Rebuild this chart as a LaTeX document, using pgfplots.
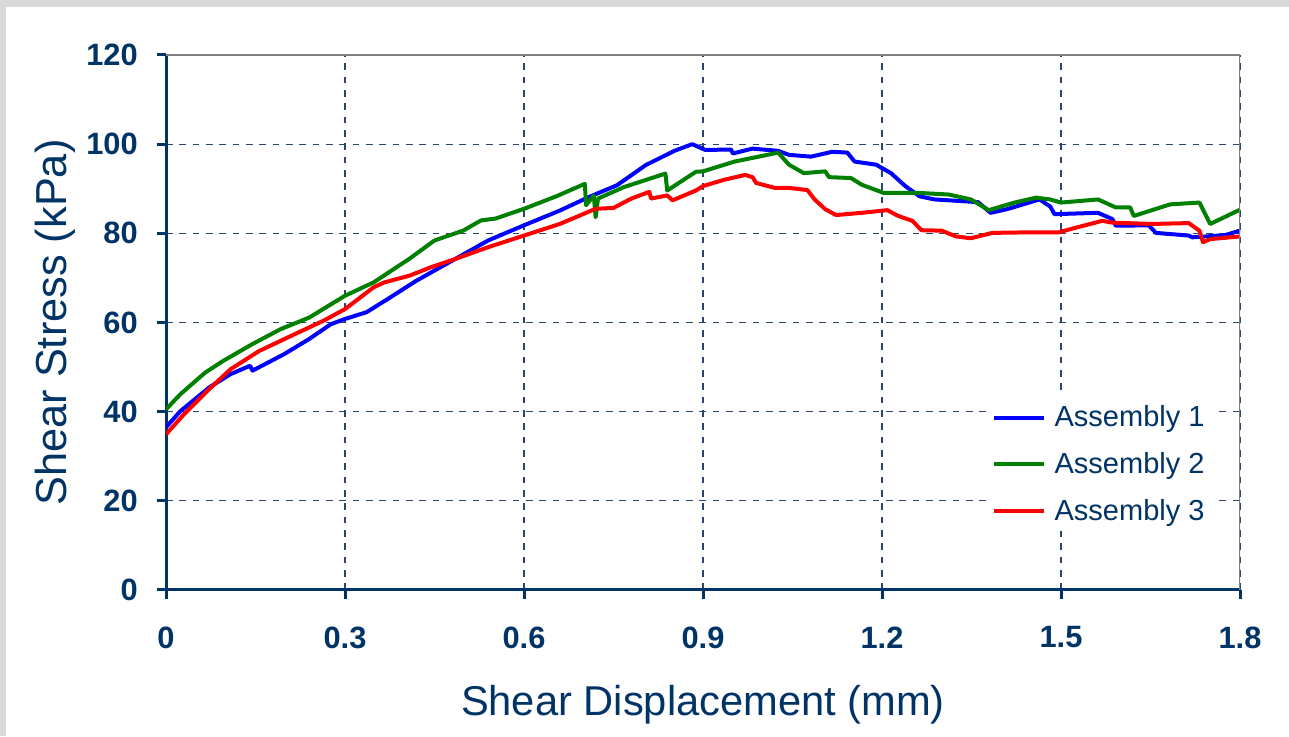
\documentclass[border=0pt]{standalone}
\usepackage{fontspec}
\setmainfont{Liberation Sans}
\usepackage{pgfplots}
\pgfplotsset{compat=1.18}
\definecolor{navy}{RGB}{0,51,102}
\definecolor{gridc}{RGB}{40,70,110}
\definecolor{bandgray}{RGB}{217,217,217}
\definecolor{c1}{RGB}{0,0,255}
\definecolor{c2}{RGB}{0,128,0}
\definecolor{c3}{RGB}{255,0,0}
\begin{document}
\begin{tikzpicture}
\fill[bandgray] (0pt,0pt) rectangle (773.4pt,441.6pt);
\fill[white] (3.6pt,0pt) rectangle (773.4pt,437.4pt);
\useasboundingbox (0pt,0pt) rectangle (773.4pt,441.6pt);
\begin{axis}[
  at={(99.6pt,87.6pt)}, anchor=south west,
  scale only axis, width=644.4pt, height=321pt,
  xmin=0, xmax=1.8, ymin=0, ymax=120,
  xtick={0,0.3,0.6,0.9,1.2,1.5,1.8},
  xticklabels={0,0.3,0.6,0.9,1.2,1.5,1.8},
  ytick={0,20,40,60,80,100,120},
  yticklabels={0,20,40,60,80,100,120},
  axis x line*=bottom, axis y line*=left,
  axis line style={navy, line width=1.8pt, -},
  tick align=outside, major tick length=5.4pt,
  tick style={navy, line width=1.8pt},
  grid=major,
  major grid style={gridc, line width=0.7pt, dash pattern=on 4pt off 4pt},
  ticklabel style={font=\fontsize{18.5}{21}\selectfont\bfseries, text=navy},
  xticklabel style={yshift=-13pt},
  yticklabel style={xshift=-8pt},
  xlabel={Shear Displacement (mm)},
  ylabel={Shear Stress (kPa)},
  every axis x label/.style={at={(axis description cs:0.5,-0.214)}, anchor=center, font=\fontsize{25}{30}\selectfont, text=navy},
  every axis y label/.style={at={(axis description cs:-0.1034,0.5)}, rotate=90, anchor=center, font=\fontsize{26}{30}\selectfont, text=navy},
  legend style={at={(axis description cs:0.7644,0.3605)}, anchor=north west, draw=none, fill=white,
     font=\fontsize{17.4}{20}\selectfont, text=navy, row sep=10pt, inner sep=3pt},
  legend cell align=left,
  legend image code/.code={\draw[#1] (0pt,0pt) -- (30pt,0pt); \path (33pt,0pt);},
  every axis plot/.append style={line width=2.4pt, line join=round, sharp plot},
]
\addplot[c1] coordinates {(0,36.5)(0.024,40.1)(0.072,45.4)(0.108,48.4)(0.141,50.3)(0.145,49.2)(0.198,52.9)(0.24,56.3)(0.276,59.6)(0.30,60.8)(0.336,62.3)(0.372,65.3)(0.42,69.4)(0.48,73.9)(0.54,78.4)(0.60,81.8)(0.66,85.1)(0.708,88.1)(0.756,90.8)(0.804,95.3)(0.852,98.5)(0.882,100)(0.904,98.7)(0.947,98.8)(0.95,97.9)(0.983,99.0)(1.026,98.5)(1.044,97.6)(1.081,97.2)(1.117,98.3)(1.142,98.1)(1.154,96.1)(1.19,95.4)(1.215,93.5)(1.239,90.6)(1.263,88.3)(1.288,87.6)(1.361,87.0)(1.382,84.6)(1.409,85.4)(1.464,87.6)(1.482,86.0)(1.489,84.3)(1.562,84.6)(1.586,83.2)(1.592,81.7)(1.647,81.8)(1.659,80.1)(1.714,79.5)(1.72,79.1)(1.775,79.6)(1.8,80.6)};
\addlegendentry{Assembly 1}
\addplot[c2] coordinates {(0,40.5)(0.024,43.9)(0.066,48.8)(0.096,51.4)(0.144,55.1)(0.192,58.5)(0.24,61.1)(0.30,66.0)(0.348,69.0)(0.408,74.3)(0.45,78.4)(0.498,80.6)(0.528,82.9)(0.552,83.3)(0.60,85.5)(0.654,88.3)(0.702,91.1)(0.704,86.3)(0.717,88.5)(0.72,83.6)(0.724,87.8)(0.768,90.4)(0.837,93.4)(0.84,89.6)(0.888,93.8)(0.9,93.9)(0.953,96.1)(1.026,98.1)(1.044,95.4)(1.069,93.5)(1.105,93.9)(1.111,92.6)(1.148,92.4)(1.166,90.9)(1.202,89.1)(1.257,89.1)(1.312,88.7)(1.349,87.6)(1.379,85.2)(1.422,86.9)(1.458,88.0)(1.482,87.6)(1.5,86.9)(1.562,87.6)(1.592,85.8)(1.616,85.8)(1.622,83.9)(1.683,86.5)(1.732,86.9)(1.75,82.1)(1.8,85.3)};
\addlegendentry{Assembly 2}
\addplot[c3] coordinates {(0,34.9)(0.03,39.4)(0.072,45.0)(0.108,49.5)(0.156,53.6)(0.216,57.4)(0.264,60.4)(0.30,63.0)(0.348,67.9)(0.366,69.0)(0.408,70.5)(0.444,72.4)(0.486,74.3)(0.54,76.9)(0.60,79.5)(0.66,82.1)(0.72,85.5)(0.75,85.7)(0.78,87.8)(0.81,89.3)(0.813,87.8)(0.84,88.5)(0.849,87.4)(0.888,89.6)(0.9,90.6)(0.935,92.0)(0.971,93.1)(0.983,92.6)(0.989,91.3)(1.02,90.2)(1.044,90.2)(1.075,89.7)(1.087,87.6)(1.105,85.4)(1.123,84.1)(1.166,84.6)(1.209,85.2)(1.227,83.9)(1.251,82.8)(1.266,80.7)(1.3,80.6)(1.324,79.3)(1.349,78.9)(1.385,80.1)(1.434,80.2)(1.495,80.2)(1.526,81.3)(1.569,82.8)(1.586,82.4)(1.653,82.1)(1.714,82.3)(1.732,80.6)(1.738,78.0)(1.75,78.7)(1.8,79.3)};
\addlegendentry{Assembly 3}
\draw[gray, line width=1.2pt] (rel axis cs:0,1) -- (rel axis cs:1,1) -- (rel axis cs:1,0);
\end{axis}
\end{tikzpicture}
\end{document}
